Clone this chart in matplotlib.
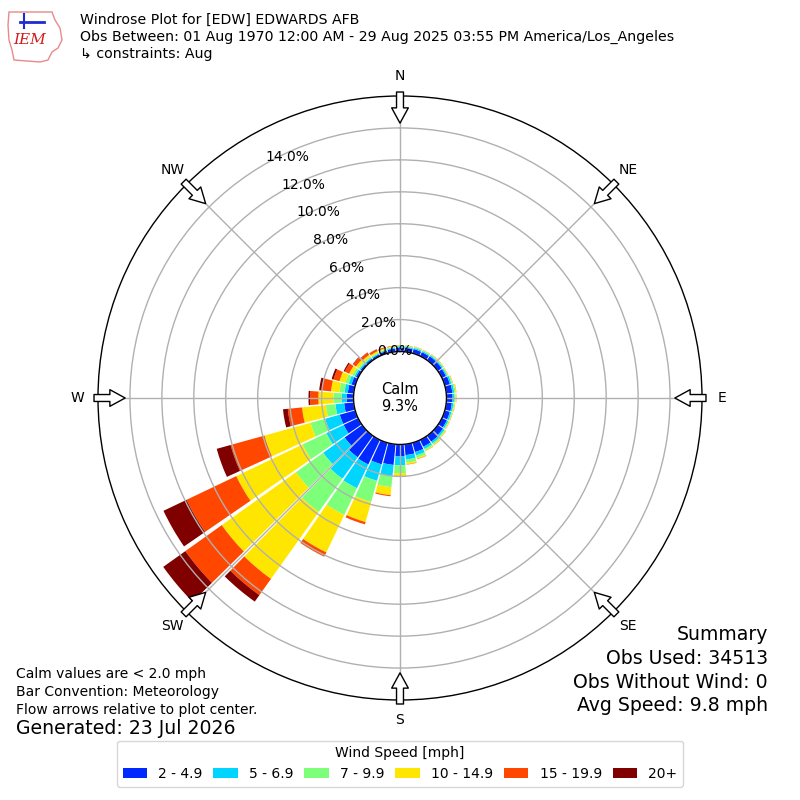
import numpy as np
import matplotlib
matplotlib.use("Agg")
import matplotlib.pyplot as plt
from matplotlib.patches import FancyArrowPatch, Polygon

# ---------------- data ----------------
directions = list(range(0, 360, 10))
speed_labels = ["2 - 4.9", "5 - 6.9", "7 - 9.9", "10 - 14.9", "15 - 19.9", "20+"]

# percent of observations per direction for each speed bin
spd_2_5 = [0.25, 0.25, 0.27, 0.27, 0.30, 0.30, 0.28, 0.33, 0.38, 0.38, 0.35, 0.33,
           0.34, 0.40, 0.45, 0.47, 0.60, 0.68, 0.75, 1.30, 1.40, 1.70, 1.65, 1.35,
           1.00, 1.00, 0.60, 0.42, 0.37, 0.24, 0.15, 0.12, 0.12, 0.12, 0.15, 0.20]
spd_5_7 = [0.07, 0.07, 0.08, 0.08, 0.08, 0.08, 0.08, 0.10, 0.12, 0.12, 0.10, 0.10,
           0.10, 0.12, 0.13, 0.15, 0.22, 0.28, 0.55, 0.70, 1.07, 1.65, 1.65, 1.65,
           1.20, 0.95, 0.55, 0.32, 0.21, 0.18, 0.10, 0.08, 0.07, 0.06, 0.06, 0.06]
spd_7_10 = [0.05, 0.05, 0.05, 0.05, 0.05, 0.05, 0.05, 0.06, 0.08, 0.07, 0.06, 0.06,
            0.06, 0.07, 0.09, 0.10, 0.15, 0.20, 0.50, 0.70, 1.38, 1.85, 2.55, 2.10,
            1.65, 0.95, 0.60, 0.52, 0.32, 0.22, 0.15, 0.10, 0.08, 0.06, 0.05, 0.05]
spd_10_15 = [0.03, 0.03, 0.03, 0.03, 0.03, 0.03, 0.03, 0.04, 0.05, 0.05, 0.04, 0.03,
             0.04, 0.05, 0.06, 0.05, 0.08, 0.10, 0.20, 0.50, 1.30, 2.60, 5.15, 5.70,
             4.60, 3.00, 1.50, 0.94, 0.53, 0.38, 0.22, 0.18, 0.14, 0.10, 0.08, 0.05]
spd_15_20 = [0.01, 0.01, 0.01, 0.01, 0.01, 0.01, 0.01, 0.01, 0.01, 0.01, 0.01, 0.01,
             0.01, 0.01, 0.01, 0.01, 0.02, 0.02, 0.03, 0.07, 0.15, 0.30, 1.25, 2.80,
             3.45, 2.20, 0.90, 0.52, 0.59, 0.39, 0.30, 0.22, 0.17, 0.12, 0.06, 0.03]
spd_20p = [0.00, 0.00, 0.00, 0.00, 0.00, 0.00, 0.00, 0.00, 0.00, 0.00, 0.00, 0.00,
           0.00, 0.00, 0.00, 0.00, 0.00, 0.00, 0.00, 0.00, 0.00, 0.00, 0.50, 1.70,
           1.60, 0.90, 0.30, 0.10, 0.15, 0.12, 0.08, 0.03, 0.02, 0.02, 0.01, 0.00]
series = [spd_2_5, spd_5_7, spd_7_10, spd_10_15, spd_15_20, spd_20p]

ring_values = [0, 2, 4, 6, 8, 10, 12, 14]
compass_labels = ["N", "NE", "E", "SE", "S", "SW", "W", "NW"]
calm_pct = 9.3

title_lines = ["Windrose Plot for [EDW] EDWARDS AFB",
               "Obs Between: 01 Aug 1970 12:00 AM - 29 Aug 2025 03:55 PM America/Los_Angeles",
               "\u21b3 constraints: Aug"]
notes = ["Calm values are < 2.0 mph", "Bar Convention: Meteorology",
         "Flow arrows relative to plot center."]
generated = "Generated: 23 Jul 2026"
summary = ["Summary", "Obs Used: 34513", "Obs Without Wind: 0", "Avg Speed: 9.8 mph"]

# ---------------- figure ----------------
plt.rcParams["font.family"] = ["DejaVu Sans"]
fig = plt.figure(figsize=(8, 8), dpi=100)
ax = fig.add_axes([0.1225, 0.125, 0.755, 0.755], projection="polar")
ax.set_theta_zero_location("N")
ax.set_theta_direction(-1)

colors = plt.cm.jet(np.linspace(0, 1, 7)[1:])
theta = np.deg2rad(directions)
width = np.deg2rad(9.0)
bottom = np.zeros(len(directions))
for vals, col, lab in zip(series, colors, speed_labels):
    vals = np.asarray(vals)
    ax.bar(theta, vals, width=width, bottom=bottom, color=col, label=lab,
           linewidth=0, zorder=1)
    bottom += vals

ax.set_ylim(0, 16)
ax.set_rorigin(-2.91)
ax.set_rgrids(ring_values, labels=[f"{v:.1f}%" for v in ring_values], angle=330,
              fontsize=10)
ax.set_thetagrids(range(0, 360, 45), labels=compass_labels, fontsize=10)
ax.tick_params(axis="x", pad=4)
ax.grid(True, color="#b0b0b0", linewidth=1.0)
for sp in ax.spines.values():
    sp.set_color("black")
    sp.set_linewidth(1.0)

# flow arrows at the rim
for ang in range(0, 360, 45):
    t = np.deg2rad(ang)
    arr = FancyArrowPatch((t, 16.25), (t, 14.3), transform=ax.transData,
                          arrowstyle="simple,head_length=1.1,head_width=1.2,tail_width=0.5",
                          mutation_scale=10, fc="white", ec="black", lw=1.0,
                          shrinkA=0, shrinkB=0, clip_on=False, zorder=6)
    ax.add_patch(arr)

ax.text(0.5, 0.5, f"Calm\n{calm_pct:.1f}%", transform=ax.transAxes, ha="center",
        va="center", fontsize=10.5, zorder=7, linespacing=1.2)

# ---------------- header / logo ----------------
for i, line in enumerate(title_lines):
    fig.text(80 / 800, 1 - (20 + 17 * i) / 800, line, fontsize=10.15, va="center", ha="left")

logo_pts = [(9, 12), (52, 12), (55, 20), (60, 28), (62, 40), (58, 48), (52, 52),
            (48, 60), (40, 62), (14, 60), (12, 50), (9, 40), (8, 25)]
logo = Polygon([(x / 800, 1 - y / 800) for x, y in logo_pts], closed=True,
               transform=fig.transFigure, fc="none", ec="#e88a8a", lw=1.0)
fig.patches.append(logo)
fig.text(30 / 800, 1 - 40 / 800, "IEM", fontsize=11, color="#d01c1c", style="italic",
         family="DejaVu Serif", ha="center", va="center")
fig.lines.append(plt.Line2D([20 / 800, 44 / 800], [1 - 22 / 800, 1 - 22 / 800],
                            transform=fig.transFigure, color="#1f2bd0", lw=2))
fig.lines.append(plt.Line2D([24 / 800, 24 / 800], [1 - 14 / 800, 1 - 28 / 800],
                            transform=fig.transFigure, color="#1f2bd0", lw=1.5))

# ---------------- footer texts ----------------
for i, line in enumerate(notes):
    fig.text(16 / 800, 1 - (674 + 18 * i) / 800, line, fontsize=10, va="center", ha="left")
fig.text(16 / 800, 1 - 729 / 800, generated, fontsize=13.6, va="center", ha="left")
for i, line in enumerate(summary):
    fig.text(768 / 800, 1 - (635 + 23.5 * i) / 800, line, fontsize=13.6, va="center",
             ha="right")

handles, labels = ax.get_legend_handles_labels()
leg = fig.legend(handles, labels, loc="lower center", bbox_to_anchor=(0.5, 0.008),
                 ncol=6, title="Wind Speed [mph]", fontsize=10, title_fontsize=10,
                 frameon=True, handlelength=1.75, columnspacing=0.8)

fig.savefig("out.png", dpi=100)
